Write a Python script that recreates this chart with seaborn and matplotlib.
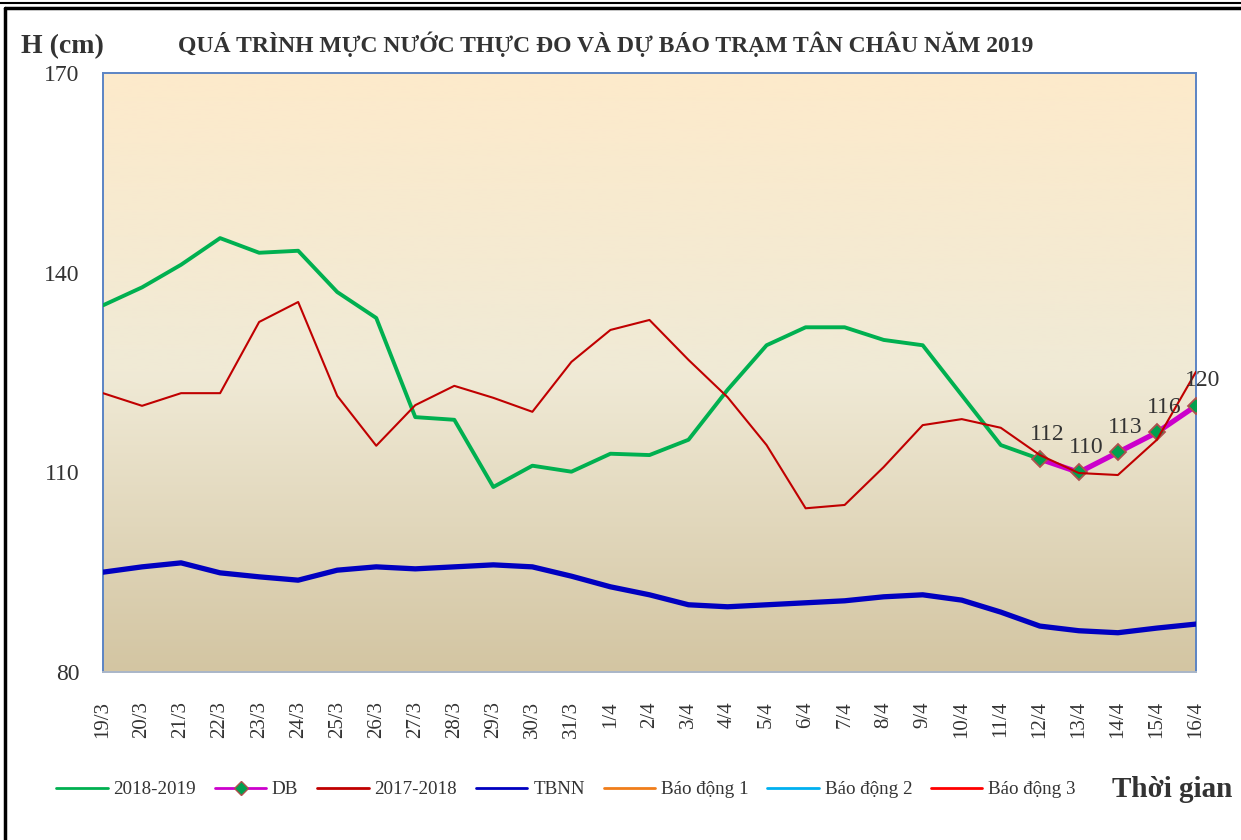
import numpy as np
import pandas as pd
import matplotlib
matplotlib.use("Agg")
import matplotlib.pyplot as plt
from matplotlib.colors import LinearSegmentedColormap
from matplotlib.lines import Line2D
import seaborn as sns

# data (cm)
dates = ["19/3", "20/3", "21/3", "22/3", "23/3", "24/3", "25/3", "26/3", "27/3", "28/3",
         "29/3", "30/3", "31/3", "1/4", "2/4", "3/4", "4/4", "5/4", "6/4", "7/4",
         "8/4", "9/4", "10/4", "11/4", "12/4", "13/4", "14/4", "15/4", "16/4"]

obs_2019 = [135.1, 137.8, 141.2, 145.2, 143.0, 143.3, 137.1, 133.2, 118.3, 117.9,
            107.8, 111.0, 110.1, 112.8, 112.6, 114.9, 122.4, 129.1, 131.8, 131.8,
            129.9, 129.1, 121.6, 114.1, 112.0]
forecast = [112, 110, 113, 116, 120]
forecast_dates = ["12/4", "13/4", "14/4", "15/4", "16/4"]
obs_2018 = [121.9, 120.0, 121.9, 121.9, 132.6, 135.6, 121.5, 114.0, 120.1, 123.0,
            121.2, 119.1, 126.6, 131.4, 132.9, 126.9, 121.3, 114.1, 104.6, 105.1,
            110.8, 117.1, 118.0, 116.7, 112.6, 109.9, 109.6, 114.9, 125.1]
tbnn = [95.0, 95.8, 96.4, 94.9, 94.3, 93.8, 95.3, 95.8, 95.5, 95.8,
        96.1, 95.8, 94.4, 92.8, 91.6, 90.1, 89.8, 90.1, 90.4, 90.7,
        91.3, 91.6, 90.8, 89.0, 86.9, 86.2, 85.9, 86.6, 87.2]

sns.set_style("white")
plt.rcParams["font.family"] = ["Liberation Serif", "DejaVu Serif"]
text_col = "#333333"

fig = plt.figure(figsize=(12.41, 8.4), dpi=100)
ax = fig.add_axes([0.083, 0.2, 0.8807, 0.713])

x_all = np.arange(len(dates))
pos = {d: i for i, d in enumerate(dates)}

# background gradient
cmap = LinearSegmentedColormap.from_list("bg", ["#FDEACB", "#F0EAD6", "#D3C5A2"])
grad = np.linspace(0, 1, 256).reshape(-1, 1)
ax.imshow(grad, cmap=cmap, aspect="auto", extent=[0, len(dates) - 1, 80, 170],
          origin="upper", zorder=0)

df19 = pd.DataFrame({"x": x_all[:len(obs_2019)], "y": obs_2019})
df18 = pd.DataFrame({"x": x_all, "y": obs_2018})
dftb = pd.DataFrame({"x": x_all, "y": tbnn})
dfdb = pd.DataFrame({"x": [pos[d] for d in forecast_dates], "y": forecast})

sns.lineplot(data=dftb, x="x", y="y", ax=ax, color="#0000C0", lw=3.8, zorder=3)
sns.lineplot(data=df19, x="x", y="y", ax=ax, color="#00B050", lw=2.8, zorder=3)
sns.lineplot(data=dfdb, x="x", y="y", ax=ax, color="#CC00CC", lw=3.8, zorder=4,
             marker="D", markersize=8, markerfacecolor="#00A050",
             markeredgecolor="#B0504D", markeredgewidth=1.3)
sns.lineplot(data=df18, x="x", y="y", ax=ax, color="#C00000", lw=1.5, zorder=5)

for xi, v in zip(dfdb["x"], forecast):
    ax.annotate(str(v), (xi, v), xytext=(5, 18), textcoords="offset points",
                ha="center", va="center", fontsize=17, color=text_col, zorder=6,
                annotation_clip=False)

ax.set_xlim(0, len(dates) - 1)
ax.set_ylim(80, 170)
ax.set_yticks([80, 110, 140, 170])
ax.set_xticks(x_all)
ax.set_xticklabels(dates, rotation=90, fontsize=15, color=text_col)
ax.tick_params(axis="y", labelsize=17, colors=text_col, length=0, pad=17)
ax.tick_params(axis="x", length=0, pad=21)
ax.set_xlabel("")
ax.set_ylabel("")
for name, sp in ax.spines.items():
    sp.set_color("#5B84C4")
    sp.set_linewidth(1.4)
ax.spines["bottom"].set_color("#A9B6C8")

fig.text(0.017, 0.945, "H (cm)", fontsize=20, fontweight="bold", color=text_col,
         va="center")
fig.text(0.488, 0.947, "QUÁ TRÌNH MỰC NƯỚC THỰC ĐO VÀ DỰ BÁO TRẠM TÂN CHÂU NĂM 2019",
         fontsize=17, fontweight="bold", color=text_col, ha="center", va="center")
fig.text(0.896, 0.06, "Thời gian", fontsize=21, fontweight="bold", color=text_col,
         va="center")

handles = [
    Line2D([], [], color="#00B050", lw=2),
    Line2D([], [], color="#CC00CC", lw=2, marker="D", markersize=7,
           markerfacecolor="#00A050", markeredgecolor="#B0504D"),
    Line2D([], [], color="#C00000", lw=2),
    Line2D([], [], color="#0000C0", lw=2),
    Line2D([], [], color="#F07D1A", lw=2),
    Line2D([], [], color="#00B0F0", lw=2),
    Line2D([], [], color="#FF0000", lw=2),
]
labels = ["2018-2019", "DB", "2017-2018", "TBNN", "Báo động 1", "Báo động 2", "Báo động 3"]
leg = fig.legend(handles, labels, loc="center", bbox_to_anchor=(0.456, 0.06), ncol=7,
                 frameon=False, fontsize=13.7, handlelength=2.7, columnspacing=1.0,
                 handletextpad=0.3)
for t in leg.get_texts():
    t.set_color(text_col)

# outer frame
fig.add_artist(Line2D([0.004, 0.004], [0, 0.99], color="black", lw=2.5,
                      transform=fig.transFigure))
fig.add_artist(Line2D([0.004, 1], [0.99, 0.99], color="black", lw=2.5,
                      transform=fig.transFigure))
fig.add_artist(Line2D([0, 1], [0.997, 0.997], color="black", lw=1.5,
                      transform=fig.transFigure))

fig.savefig("out.png", dpi=100)
